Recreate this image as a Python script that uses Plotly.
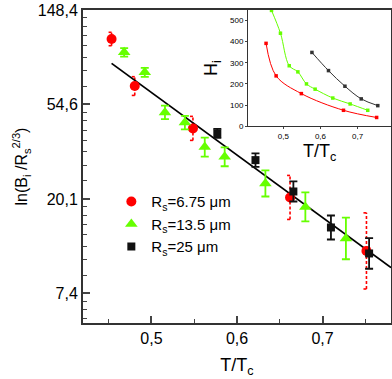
import math
import plotly.graph_objects as go

# Main panel: T/Tc and ln(B_i / R_s^(2/3)) for each sample radius
t_red = [0.4534, 0.4805, 0.5485, 0.6620, 0.7513]
ln_red = [4.693, 4.195, 3.747, 3.016, 2.450]
err_red = [0.071, 0.099, 0.127, 0.233, 0.403]

t_green = [0.4681, 0.4922, 0.5158, 0.5391, 0.5623, 0.5856, 0.6332, 0.6799, 0.7273]
ln_green = [4.552, 4.340, 3.916, 3.808, 3.549, 3.446, 3.164, 2.916, 2.582]
err_green = [0.045, 0.048, 0.071, 0.071, 0.100, 0.100, 0.138, 0.154, 0.220]

t_black = [0.5770, 0.6216, 0.6659, 0.7098, 0.7544]
ln_black = [3.694, 3.411, 3.079, 2.698, 2.423]
err_black = [0.048, 0.071, 0.106, 0.127, 0.162]

# linear fit drawn over all points
fit_t = [0.4534, 0.78]
fit_ln = [4.435, 2.273]

# Inset: H_i against T/Tc
h_red = [392, 238, 154, 75, 41]
h_green = [548, 440, 286, 257, 200, 175, 133, 105, 75]
h_black = [349, 263, 189, 129, 97]

y_ticks = [2, 3, 4, 5]
y_ticktext = ["7,4", "20,1", "54,6", "148,4"]

RED = "#ff0000"
GREEN = "#66ff00"
BLACK = "#111111"
FONT = "Arial, Liberation Sans, sans-serif"

# minor ticks sit at linear steps between e^n values, as Origin draws them
minor_y = []
for n in range(1, 5):
    a, b = math.exp(n), math.exp(n + 1)
    for k in range(1, 8):
        minor_y.append(math.log(a + (b - a) * k / 8))

fig = go.Figure()

# red dashed error bars with "[" caps
vx, vy, cx, cy = [], [], [], []
cap = 0.0035
for t, y, e in zip(t_red, ln_red, err_red):
    vx += [t, t, None]
    vy += [y - e, y + e, None]
    cx += [t - cap, t, None, t - cap, t, None]
    cy += [y + e, y + e, None, y - e, y - e, None]
fig.add_trace(go.Scatter(x=vx, y=vy, mode="lines", showlegend=False,
                         line=dict(color=RED, width=1.6, dash="3px,2px")))
fig.add_trace(go.Scatter(x=cx, y=cy, mode="lines", showlegend=False,
                         line=dict(color=RED, width=1.6)))

fig.add_trace(go.Scatter(x=fit_t, y=fit_ln, mode="lines", showlegend=False,
                         line=dict(color="black", width=1.8)))

fig.add_trace(go.Scatter(
    x=t_red, y=ln_red, mode="markers", name="R<sub>s</sub>=6.75 μm",
    marker=dict(symbol="circle", size=10, color=RED)))
fig.add_trace(go.Scatter(
    x=t_green, y=ln_green, mode="markers", name="R<sub>s</sub>=13.5 μm",
    marker=dict(symbol="triangle-up", size=11, color=GREEN),
    error_y=dict(type="data", array=err_green, color=GREEN, thickness=1.8, width=4)))
fig.add_trace(go.Scatter(
    x=t_black, y=ln_black, mode="markers", name="R<sub>s</sub>=25 μm",
    marker=dict(symbol="square", size=8, color=BLACK),
    error_y=dict(type="data", array=err_black, color=BLACK, thickness=1.8, width=4)))

# inset curves
for t, h, c in [(t_red, h_red, RED), (t_green, h_green, GREEN), (t_black, h_black, "#333333")]:
    fig.add_trace(go.Scatter(
        x=t, y=h, mode="lines+markers", xaxis="x2", yaxis="y2", showlegend=False,
        line=dict(color=c, width=1, shape="spline", smoothing=1.0),
        marker=dict(symbol="square", size=3.5, color=c)))

fig.update_layout(
    width=392, height=379,
    margin=dict(l=83, r=1, t=10, b=56),
    paper_bgcolor="white", plot_bgcolor="white",
    separators=",.",
    font=dict(family=FONT, size=16, color="black"),
    showlegend=True,
    legend=dict(x=0.092, y=0.44, xanchor="left", yanchor="top",
                bgcolor="rgba(0,0,0,0)", font=dict(size=15),
                tracegroupgap=0, itemwidth=30),
    xaxis=dict(range=[0.42, 0.78], tickvals=[0.5, 0.6, 0.7], tickformat=".1f",
               ticks="inside", ticklen=7, tickwidth=1.5, showgrid=False, zeroline=False,
               showline=True, linewidth=2, linecolor="#333333", mirror=True,
               automargin=False,
               minor=dict(dtick=0.05, tick0=0.45, ticks="inside", ticklen=4, tickwidth=1.3),
               title=dict(text="T/T<sub>c</sub>", font=dict(size=18), standoff=12)),
    yaxis=dict(range=[1.687, 5], tickvals=y_ticks, ticktext=y_ticktext,
               ticks="inside", ticklen=7, tickwidth=1.5, showgrid=False, zeroline=False,
               showline=True, linewidth=2, linecolor="#333333", mirror=True,
               automargin=False,
               minor=dict(tickvals=minor_y, ticks="inside", ticklen=4, tickwidth=1.3),
               title=dict(text="ln(B<sub>i</sub> /R<sub>s</sub><sup>2/3</sup>)",
                          font=dict(size=16), standoff=6)),
    xaxis2=dict(domain=[0.536, 1.0], anchor="y2", range=[0.405, 0.79],
                tickvals=[0.5, 0.6, 0.7], tickformat=".1f", tickfont=dict(size=8),
                ticks="outside", ticklen=2, showgrid=False, zeroline=False,
                showline=True, linewidth=1.2, linecolor="#333333", automargin=False,
                title=dict(text="T/T<sub>c</sub>", font=dict(size=18), standoff=2)),
    yaxis2=dict(domain=[0.629, 1.0], anchor="x2", range=[0, 550],
                tickvals=[0, 100, 200, 300, 400, 500], tickfont=dict(size=8),
                ticks="outside", ticklen=2, showgrid=False, zeroline=False,
                showline=True, linewidth=1.2, linecolor="#333333", automargin=False,
                title=dict(text="H<sub>i</sub>", font=dict(size=18), standoff=7)),
)

# the page's default 8px body margin would push the figure off its frame
fig.write_html("out.html", config={"displayModeBar": False},
               post_script="document.body.style.margin='0';")
